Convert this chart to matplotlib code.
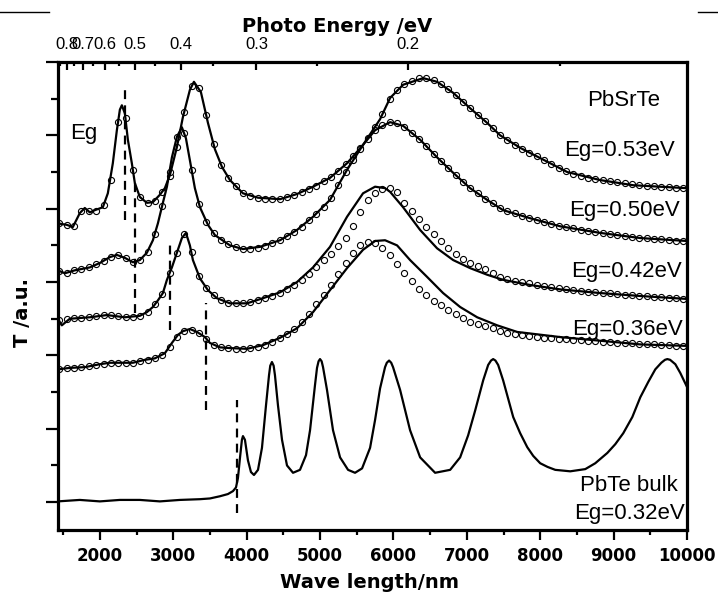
import numpy as np
import matplotlib
matplotlib.use("Agg")
import matplotlib.pyplot as plt
from matplotlib.ticker import FixedLocator, MultipleLocator, NullFormatter

# ---------------- data ----------------
# measured transmission, sampled every 100 nm (a.u., curves offset vertically)
wl_meas = np.arange(1450, 10000, 100)

meas_053 = [3.80, 3.78, 3.76, 3.97, 3.97, 3.97, 4.05, 4.39, 5.18, 5.24,
            4.53, 4.16, 4.08, 4.10, 4.23, 4.45, 4.84, 5.32, 5.67, 5.65,
            5.28, 4.88, 4.60, 4.42, 4.31, 4.21, 4.17, 4.15, 4.13, 4.13,
            4.13, 4.16, 4.19, 4.23, 4.27, 4.31, 4.38, 4.43, 4.51, 4.61,
            4.72, 4.83, 4.96, 5.11, 5.29, 5.50, 5.62, 5.70, 5.74, 5.78,
            5.78, 5.75, 5.70, 5.63, 5.55, 5.45, 5.37, 5.28, 5.20, 5.10,
            5.00, 4.94, 4.87, 4.81, 4.76, 4.72, 4.66, 4.61, 4.55, 4.51,
            4.47, 4.45, 4.42, 4.40, 4.39, 4.38, 4.36, 4.35, 4.34, 4.32,
            4.31, 4.31, 4.30, 4.30, 4.28, 4.28]

meas_050 = [3.15, 3.12, 3.16, 3.18, 3.20, 3.25, 3.29, 3.34, 3.37, 3.33,
            3.27, 3.30, 3.41, 3.65, 4.04, 4.50, 4.98, 5.03, 4.53, 4.06,
            3.82, 3.67, 3.57, 3.52, 3.48, 3.45, 3.45, 3.46, 3.49, 3.53,
            3.57, 3.63, 3.68, 3.75, 3.85, 3.93, 4.02, 4.15, 4.32, 4.50,
            4.66, 4.81, 4.95, 5.07, 5.14, 5.18, 5.17, 5.11, 5.03, 4.95,
            4.85, 4.75, 4.65, 4.55, 4.46, 4.36, 4.28, 4.21, 4.13, 4.08,
            4.01, 3.97, 3.94, 3.90, 3.87, 3.85, 3.82, 3.79, 3.76, 3.75,
            3.74, 3.71, 3.70, 3.68, 3.67, 3.65, 3.64, 3.63, 3.61, 3.60,
            3.60, 3.59, 3.59, 3.57, 3.56, 3.56]

meas_042 = [2.48, 2.50, 2.51, 2.51, 2.52, 2.54, 2.55, 2.55, 2.54, 2.52,
            2.52, 2.54, 2.59, 2.70, 2.84, 3.12, 3.40, 3.65, 3.41, 3.08,
            2.92, 2.82, 2.75, 2.71, 2.71, 2.71, 2.73, 2.75, 2.78, 2.81,
            2.85, 2.90, 2.96, 3.03, 3.11, 3.20, 3.30, 3.38, 3.49, 3.60,
            3.76, 3.95, 4.12, 4.21, 4.27, 4.28, 4.23, 4.08, 3.97, 3.86,
            3.75, 3.65, 3.56, 3.46, 3.38, 3.31, 3.26, 3.22, 3.18, 3.12,
            3.07, 3.04, 3.01, 3.00, 2.99, 2.96, 2.95, 2.93, 2.92, 2.90,
            2.89, 2.88, 2.86, 2.86, 2.85, 2.85, 2.84, 2.82, 2.82, 2.81,
            2.81, 2.80, 2.80, 2.78, 2.78, 2.77]

meas_036 = [1.81, 1.83, 1.83, 1.84, 1.85, 1.87, 1.88, 1.90, 1.90, 1.90,
            1.90, 1.92, 1.94, 1.96, 2.00, 2.11, 2.25, 2.33, 2.35, 2.30,
            2.22, 2.14, 2.11, 2.10, 2.09, 2.09, 2.10, 2.11, 2.14, 2.18,
            2.24, 2.29, 2.36, 2.45, 2.56, 2.70, 2.82, 2.96, 3.11, 3.26,
            3.40, 3.50, 3.55, 3.53, 3.46, 3.37, 3.25, 3.12, 3.01, 2.90,
            2.82, 2.74, 2.69, 2.62, 2.56, 2.51, 2.45, 2.43, 2.40, 2.37,
            2.33, 2.30, 2.29, 2.28, 2.26, 2.25, 2.24, 2.24, 2.22, 2.22,
            2.21, 2.21, 2.20, 2.20, 2.18, 2.18, 2.17, 2.17, 2.17, 2.15,
            2.15, 2.15, 2.14, 2.14, 2.13, 2.13]

# fitted transmission spectra
fit_053_wl = [1427, 1550, 1632, 1727, 1795, 1864, 1932, 2041, 2109, 2177,
              2232, 2273, 2300, 2341, 2382, 2436, 2477, 2545, 2641, 2723,
              2818, 2886, 2955, 3050, 3132, 3227, 3282, 3377, 3473, 3568,
              3664, 3773, 3950, 4155, 4455, 4686, 4905, 5136, 5368, 5586,
              5818, 5955, 6132, 6405, 6595, 6814, 7045, 7277, 7455, 7727,
              8136, 8368, 8818, 9268, 10000]
fit_053_T = [3.80, 3.78, 3.75, 3.94, 4.01, 3.95, 3.98, 4.02, 4.21, 4.62,
             5.07, 5.35, 5.41, 5.30, 4.94, 4.62, 4.35, 4.16, 4.08, 4.09,
             4.19, 4.28, 4.46, 4.84, 5.25, 5.62, 5.73, 5.59, 5.17, 4.81,
             4.57, 4.39, 4.21, 4.15, 4.13, 4.20, 4.30, 4.42, 4.62, 4.87,
             5.22, 5.51, 5.69, 5.78, 5.73, 5.58, 5.37, 5.17, 5.00, 4.83,
             4.62, 4.50, 4.39, 4.32, 4.28]

fit_050_wl = [1427, 1523, 1659, 1864, 2000, 2136, 2232, 2341, 2450, 2545,
              2641, 2723, 2791, 2859, 2914, 2982, 3050, 3118, 3173, 3227,
              3295, 3364, 3473, 3568, 3773, 3950, 4182, 4455, 4686, 4905,
              5136, 5368, 5586, 5750, 5955, 6132, 6364, 6595, 6814, 7045,
              7277, 7495, 7864, 8273, 8818, 9364, 10000]
fit_050_T = [3.16, 3.12, 3.16, 3.20, 3.26, 3.34, 3.37, 3.33, 3.27, 3.30,
             3.40, 3.57, 3.80, 4.08, 4.30, 4.70, 4.98, 5.11, 4.96, 4.66,
             4.28, 4.02, 3.78, 3.64, 3.50, 3.45, 3.48, 3.57, 3.71, 3.89,
             4.12, 4.53, 4.87, 5.07, 5.18, 5.13, 4.94, 4.70, 4.49, 4.28,
             4.12, 3.98, 3.87, 3.76, 3.67, 3.60, 3.56]

fit_042_wl = [1427, 1482, 1591, 1864, 2095, 2341, 2545, 2641, 2723, 2791,
              2859, 2914, 2982, 3050, 3118, 3173, 3227, 3268, 3364, 3473,
              3595, 3773, 4005, 4223, 4455, 4686, 4905, 5136, 5368, 5586,
              5750, 5886, 5955, 6132, 6364, 6595, 6814, 7045, 7277, 7495,
              7864, 8273, 8818, 9364, 10000]
fit_042_T = [2.50, 2.41, 2.50, 2.52, 2.55, 2.52, 2.54, 2.59, 2.66, 2.75,
             2.85, 3.03, 3.20, 3.40, 3.60, 3.67, 3.50, 3.30, 3.05, 2.89,
             2.78, 2.71, 2.71, 2.78, 2.86, 3.00, 3.20, 3.48, 3.89, 4.21,
             4.30, 4.28, 4.23, 4.02, 3.71, 3.46, 3.30, 3.19, 3.10, 3.03,
             2.96, 2.90, 2.85, 2.81, 2.77]

fit_036_wl = [1427, 1591, 1795, 2000, 2136, 2450, 2614, 2750, 2886, 2982,
              3064, 3132, 3227, 3323, 3432, 3500, 3636, 3773, 4005, 4223,
              4455, 4686, 4905, 5136, 5368, 5586, 5750, 5886, 6050, 6227,
              6459, 6677, 6909, 7141, 7414, 7686, 8273, 8818, 9364, 10000]
fit_036_T = [1.81, 1.83, 1.84, 1.88, 1.90, 1.90, 1.94, 1.96, 2.03, 2.17,
             2.28, 2.33, 2.36, 2.32, 2.25, 2.17, 2.11, 2.10, 2.09, 2.14,
             2.24, 2.37, 2.59, 2.89, 3.19, 3.44, 3.56, 3.57, 3.50, 3.30,
             3.07, 2.85, 2.66, 2.52, 2.41, 2.32, 2.25, 2.20, 2.15, 2.13]

# bulk PbTe transmission
bulk_wl = [1427, 1727, 2000, 2273, 2545, 2818, 3091, 3364, 3500, 3636,
           3745, 3814, 3855, 3882, 3909, 3936, 3950, 3977, 4018, 4059,
           4100, 4155, 4209, 4264, 4305, 4322, 4345, 4368, 4386, 4427,
           4482, 4550, 4632, 4727, 4809, 4864, 4932, 4959, 4980, 5000,
           5022, 5041, 5095, 5177, 5273, 5382, 5477, 5573, 5682, 5750,
           5818, 5886, 5910, 5941, 5970, 5995, 6091, 6227, 6364, 6568,
           6773, 6909, 7018, 7114, 7223, 7291, 7330, 7359, 7390, 7427,
           7495, 7632, 7727, 7823, 7905, 8000, 8100, 8205, 8409, 8614,
           8750, 8914, 9023, 9132, 9255, 9364, 9473, 9568, 9650, 9700,
           9732, 9770, 9841, 9909, 10000]
bulk_T = [0.01, 0.03, 0.01, 0.03, 0.03, 0.01, 0.03, 0.04, 0.05, 0.08,
          0.11, 0.15, 0.20, 0.33, 0.60, 0.85, 0.90, 0.85, 0.57, 0.41,
          0.37, 0.44, 0.74, 1.32, 1.73, 1.86, 1.91, 1.86, 1.73, 1.32,
          0.85, 0.50, 0.40, 0.44, 0.64, 0.98, 1.60, 1.83, 1.92, 1.95,
          1.92, 1.84, 1.53, 0.98, 0.61, 0.44, 0.40, 0.46, 0.74, 1.12,
          1.55, 1.84, 1.90, 1.93, 1.90, 1.84, 1.53, 0.98, 0.61, 0.40,
          0.44, 0.61, 0.91, 1.25, 1.66, 1.87, 1.93, 1.95, 1.93, 1.87,
          1.66, 1.16, 0.94, 0.75, 0.63, 0.53, 0.48, 0.44, 0.42, 0.45,
          0.53, 0.67, 0.79, 0.94, 1.16, 1.43, 1.64, 1.81, 1.90, 1.94,
          1.95, 1.94, 1.88, 1.76, 1.57]

# band gaps (eV) and the vertical extent of their marker lines
eg_values = [0.53, 0.50, 0.42, 0.36, 0.32]
eg_marker_spans = [(3.85, 5.66), (2.58, 4.43), (2.35, 3.53), (1.25, 2.71), (-0.15, 1.39)]

# photon energy axis ticks (eV)
energy_major = [0.2, 0.3, 0.4, 0.5, 0.6, 0.7, 0.8]
energy_minor = [0.15, 0.25, 0.35, 0.45, 0.55, 0.65, 0.75, 0.85]
HC = 1240.0  # eV*nm

# ---------------- figure ----------------
fig = plt.figure(figsize=(7.18, 5.94), dpi=100)
ax = fig.add_axes([58 / 718, 64 / 594, 629 / 718, 468 / 594])

label_font = "Liberation Sans"
bold_font = "DejaVu Sans"

mstyle = dict(ls="none", marker="o", ms=4.4, mfc="white", mec="black",
              mew=0.8, zorder=2)
lstyle = dict(color="black", lw=1.6, zorder=3)

for meas in (meas_053, meas_050, meas_042, meas_036):
    ax.plot(wl_meas, meas, **mstyle)

for wl, T in ((fit_053_wl, fit_053_T), (fit_050_wl, fit_050_T),
              (fit_042_wl, fit_042_T), (fit_036_wl, fit_036_T)):
    ax.plot(wl, T, **lstyle)

ax.plot(bulk_wl, bulk_T, **lstyle)

# band-gap markers at lambda = hc / Eg
for eg, (y0, y1) in zip(eg_values, eg_marker_spans):
    x = HC / eg
    ax.plot([x, x], [y0, y1], color="black", lw=1.6, dashes=(4, 2.8), zorder=4)

ax.set_xlim(1430, 10000)
ax.set_ylim(-0.38, 6.0)

# spines
for s in ax.spines.values():
    s.set_linewidth(2.3)

# bottom axis
ax.set_xticks([2000, 3000, 4000, 5000, 6000, 7000, 8000, 9000, 10000])
ax.xaxis.set_minor_locator(MultipleLocator(500))
ax.tick_params(axis="x", which="major", direction="out", length=7, width=1.6,
               pad=5, labelsize=12, top=False)
ax.tick_params(axis="x", which="minor", direction="out", length=3.5, width=1.6,
               top=False)
for lab in ax.get_xticklabels():
    lab.set_fontfamily(bold_font)
    lab.set_fontweight("bold")

# left axis (no labels)
ax.yaxis.set_major_locator(MultipleLocator(1))
ax.yaxis.set_minor_locator(MultipleLocator(0.5))
ax.yaxis.set_major_formatter(NullFormatter())
ax.tick_params(axis="y", which="major", direction="out", length=8.5, width=1.6,
               right=False)
ax.tick_params(axis="y", which="minor", direction="out", length=5, width=1.6,
               right=False)

# top axis in photon energy
ax2 = ax.twiny()
ax2.set_xlim(ax.get_xlim())
ax2.xaxis.set_major_locator(FixedLocator([HC / e for e in energy_major]))
ax2.xaxis.set_minor_locator(FixedLocator([HC / e for e in energy_minor]))
ax2.set_xticklabels([f"{e:.1f}" for e in energy_major],
                    fontfamily=label_font, fontsize=12)
ax2.tick_params(axis="x", which="major", direction="in", length=6, width=1.6, pad=7)
ax2.tick_params(axis="x", which="minor", direction="in", length=3, width=1.6)
for s in ax2.spines.values():
    s.set_visible(False)

# axis titles
fig.text(369 / 718, 1 - 588 / 594, "Wave length/nm", ha="center", va="baseline",
         fontfamily=bold_font, fontweight="bold", fontsize=14)
fig.text(337 / 718, 1 - 32 / 594, "Photo Energy /eV", ha="center", va="baseline",
         fontfamily=bold_font, fontweight="bold", fontsize=14)
fig.text(23 / 718, 1 - 312 / 594, "T /a.u.", ha="center", va="center",
         rotation=90, fontfamily=bold_font, fontweight="bold", fontsize=14)

# annotations
tkw = dict(fontfamily=label_font, fontsize=16, va="center")
ax.text(1782, 5.02, "Eg", ha="center", **tkw)
ax.text(9636, 5.47, "PbSrTe", ha="right", **tkw)
ax.text(9841, 4.80, "Eg=0.53eV", ha="right", **tkw)
ax.text(9909, 3.97, "Eg=0.50eV", ha="right", **tkw)
ax.text(9936, 3.14, "Eg=0.42eV", ha="right", **tkw)
ax.text(9950, 2.35, "Eg=0.36eV", ha="right", **tkw)
ax.text(9868, 0.22, "PbTe bulk", ha="right", **tkw)
ax.text(9977, -0.16, "Eg=0.32eV", ha="right", **tkw)

# short rules at the top corners
fig.add_artist(plt.Line2D([0, 49 / 718], [1 - 12 / 594] * 2, color="black", lw=1.0))
fig.add_artist(plt.Line2D([698 / 718, 1], [1 - 12 / 594] * 2, color="black", lw=1.0))

fig.savefig("out.png", dpi=100)
